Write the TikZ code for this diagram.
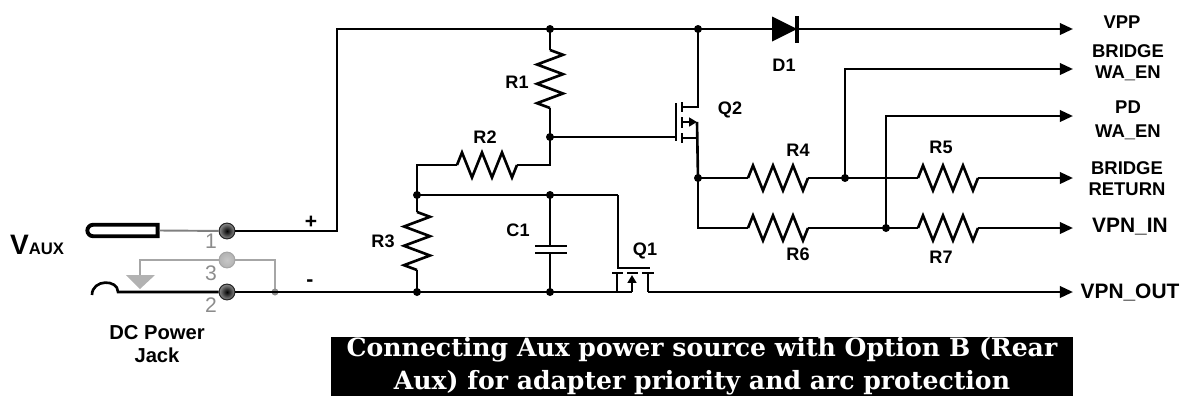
\documentclass[tikz,border=0pt]{standalone}
\usepackage{fontspec}
\setmainfont{Liberation Sans}
\newfontfamily\capfont{DejaVu Serif}
\usetikzlibrary{arrows.meta, shapes.misc}

\begin{document}
\begin{tikzpicture}[
    x=0.02cm, y=-0.02cm,
    wire/.style={line width=1.5pt},
    sig/.style={wire, -{Triangle[length=7.5pt, width=6.5pt]}},
    lbl/.style={font=\fontsize{10.3}{12}\selectfont\bfseries},
    outlbl/.style={font=\fontsize{10.5}{12}\selectfont\bfseries, align=center},
    biglbl/.style={font=\fontsize{11.9}{14}\selectfont\bfseries},
    pinnum/.style={text=black!45, font=\fontsize{12}{14}\selectfont},
    jackline/.style={line width=1.1pt, black!50},
    pinball/.style={circle, inner sep=0pt, minimum size=9pt, draw=black!85, line width=0.6pt, inner color=black, outer color=black!45},
    plug/.style={draw, line width=2.2pt, rounded rectangle, rounded rectangle right arc=none, minimum width=40pt, minimum height=6.5pt, inner sep=0pt},
    caption/.style={fill=black, text=white, align=center, inner sep=0pt, minimum width=421.8pt, minimum height=33.4pt, font=\capfont\bfseries\fontsize{14.3}{18.7}\selectfont},
    resh/.pic={
        \draw[wire] (-30,0) -- (-25,-12.5) -- (-15,12.5) -- (-5,-12.5) -- (5,12.5) -- (15,-12.5) -- (25,12.5) -- (30,0);
        \coordinate (-a) at (-30,0);
        \coordinate (-b) at (30,0);
    },
    resv/.pic={
        \draw[wire] (0,-29) -- (13,-24.2) -- (-13,-14.5) -- (13,-4.8) -- (-13,4.8) -- (13,14.5) -- (-13,24.2) -- (0,29);
        \coordinate (-a) at (0,-29);
        \coordinate (-b) at (0,29);
    }
]
    \useasboundingbox (0,0) rectangle (1187,396);

    % === Nets ===
    \coordinate (plusc) at (337,231);
    \coordinate (tl) at (337,29);
    \coordinate (t1) at (550,29);
    \coordinate (t2) at (698,29);
    \coordinate (g2) at (550,137);
    \coordinate (m2) at (550,165);
    \coordinate (c3) at (417,165);
    \coordinate (g1) at (417,195);
    \coordinate (c1t) at (550,195);
    \coordinate (q1g) at (618,195);
    \coordinate (b3) at (417,292);
    \coordinate (b1) at (550,292);
    \coordinate (q1s) at (617,292);
    \coordinate (q1d) at (648,292);
    \coordinate (s2) at (698,178);
    \coordinate (s2b) at (698,228);
    \coordinate (j4) at (845,178);
    \coordinate (j6) at (886,228);
    \coordinate (d1a) at (772,29);
    \coordinate (d1k) at (797,29);
    \coordinate (e1) at (1073,29);
    \coordinate (e2) at (1073,69);
    \coordinate (e3) at (1073,116);
    \coordinate (e4) at (1073,178);
    \coordinate (e5) at (1073,228);
    \coordinate (e6) at (1073,292);

    % === DC power jack ===
    \node[plug] (plug) at (122.5,230.5) {};
    \node[pinball] (p1) at (227,231) {};
    \node[pinball] (p2) at (227,292) {};
    \node[pinball, draw=black!35, inner color=black!22, outer color=black!30] (p3) at (227,260) {};
    \coordinate (gnd) at (140,275);
    \coordinate (jdot) at (275,292);
    \draw[jackline] (plug.east) -- (p1);
    \draw[jackline, black!35] (p3) -| (gnd);
    \draw[jackline, black!35] (p3) -| (jdot);
    \fill[black!30] (126,275) -- (155,275) -- (140,289) -- cycle;
    \draw[wire] (92,295) .. controls (92,279) and (118,279) .. (118,292) -- (p2);
    \fill[black!45] (jdot) circle[radius=3.5];
    \node[pinnum] (n1) at (211,241) {1};
    \node[pinnum] (n3) at (211,273) {3};
    \node[pinnum] (n2) at (211,305) {2};
    \node[font=\bfseries] (vaux) at (37,245) {\fontsize{16}{16}\selectfont V\fontsize{9.5}{10}\selectfont AUX};
    \node[font=\fontsize{11.5}{13.6}\selectfont\bfseries, align=center] (jack) at (157,344) {DC Power\\Jack};
    \node[font=\fontsize{12}{14}\selectfont\bfseries] (plus) at (311,222) {+};
    \node[font=\fontsize{12}{14}\selectfont\bfseries] (minus) at (310,283) {-};

    % === Components ===
    \pic (r1) at (550,79) {resv};
    \pic (r2) at (487,165) {resh};
    \pic (r3) at (417,241) {resv};
    \pic (r4) at (778,178) {resh};
    \pic (r5) at (948,178) {resh};
    \pic (r6) at (778,228) {resh};
    \pic (r7) at (948,228) {resh};

    % D1
    \fill (d1a) ++(0,-12.5) -- ++(0,25) -- (d1k) -- cycle;
    \draw[line width=2pt] (797,16) -- (797,43);

    % C1
    \draw[wire] (535,246) -- (567,246);
    \draw[wire] (535,253) -- (567,253);

    % Q2
    \draw[wire] (676,103) -- (676,141);
    \draw[wire] (682,102) -- (682,112) (682,117) -- (682,128) (682,133) -- (682,143);
    \draw[wire] (682,107) -- (698,107) -- (t2);
    \draw[wire] (682,138) -- (698,138);
    \draw[line width=1.2pt, -{Triangle[length=4.5pt, width=5pt]}] (683,122) -- (697,122);
    \draw[wire] (697,122) -- (s2);

    % Q1
    \draw[wire] (q1g) -- (618,268) -- (650,268);
    \draw[wire] (612,273) -- (623,273) (627,273) -- (638,273) (642,273) -- (654,273);
    \draw[wire] (617,273) -- (q1s) -- (632,292);
    \draw[wire] (648,273) -- (q1d);
    \draw[line width=1.2pt, -{Triangle[length=4.5pt, width=5pt]}] (632,292) -- (632,275);

    % === Wiring ===
    \draw[wire] (p1) -- (plusc) -- (tl) -- (t1) -- (t2) -- (d1a);
    \draw[sig] (d1k) -- (e1);
    \draw[wire] (t1) -- (r1-a);
    \draw[wire] (r1-b) -- (g2) -- (m2) -- (r2-b);
    \draw[wire] (g2) -- (676,137);
    \draw[wire] (r2-a) -- (c3) -- (g1) -- (r3-a);
    \draw[wire] (r3-b) -- (b3);
    \draw[wire] (g1) -- (c1t) -- (q1g);
    \draw[wire] (c1t) -- (550,246);
    \draw[wire] (550,253) -- (b1);
    \draw[wire] (p2) -- (b3) -- (b1) -- (q1s);
    \draw[sig] (q1d) -- (e6);
    \draw[wire] (s2) -- (r4-a);
    \draw[wire] (r4-b) -- (j4) -- (r5-a);
    \draw[sig] (r5-b) -- (e4);
    \draw[wire] (s2) -- (s2b) -- (r6-a);
    \draw[wire] (r6-b) -- (j6) -- (r7-a);
    \draw[sig] (r7-b) -- (e5);
    \draw[sig] (j4) |- (e2);
    \draw[sig] (j6) |- (e3);

    \foreach \j in {t1, t2, g2, g1, c1t, b3, b1, s2, j4, j6}
        \fill (\j) circle[radius=4];

    % === Labels ===
    \node[lbl] (lr1) at (517,82) {R1};
    \node[lbl] (lr2) at (485,137) {R2};
    \node[lbl] (lr3) at (383,241) {R3};
    \node[lbl] (lc1) at (518,230) {C1};
    \node[lbl] (lq1) at (645,251) {Q1};
    \node[lbl] (lq2) at (730,110) {Q2};
    \node[lbl] (ld1) at (784,65) {D1};
    \node[lbl] (lr4) at (798,150) {R4};
    \node[lbl] (lr5) at (941,147) {R5};
    \node[lbl] (lr6) at (798,254) {R6};
    \node[lbl] (lr7) at (941,257) {R7};

    \node[outlbl] (vpp) at (1122,22) {VPP};
    \node[outlbl] (bwa) at (1128,62.5) {BRIDGE\\WA\_EN};
    \node[outlbl, font=\fontsize{10.5}{13.5}\selectfont\bfseries] (pwa) at (1128,120) {PD\\WA\_EN};
    \node[outlbl] (bret) at (1127,179) {BRIDGE\\RETURN};
    \node[biglbl] (vpnin) at (1130,227) {VPN\_IN};
    \node[biglbl] (vpnout) at (1130,292) {VPN\_OUT};

    % === Caption ===
    \node[caption] (cap) at (702,366.5) {Connecting Aux power source with Option B (Rear\\Aux) for adapter priority and arc protection};

\end{tikzpicture}
\end{document}
